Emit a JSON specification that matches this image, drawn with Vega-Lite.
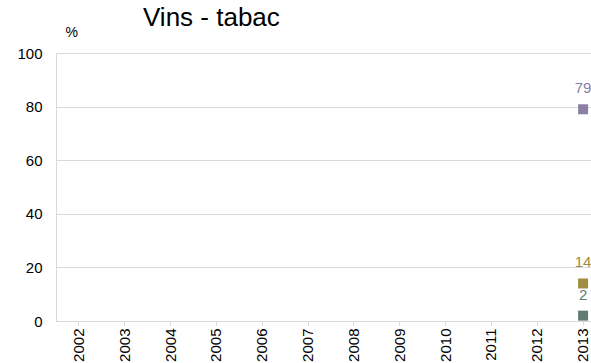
{
  "$schema": "https://vega.github.io/schema/vega-lite/v6.json",
  "autosize": {"type": "none"},
  "padding": {"left": 56, "top": 53, "right": 0, "bottom": 42},
  "width": 550,
  "height": 268,
  "background": "white",
  "config": {
    "font": "Liberation Sans",
    "view": {"stroke": null}
  },
  "title": {
    "text": "Vins - tabac",
    "anchor": "start",
    "frame": "group",
    "dx": 87,
    "offset": -6,
    "fontSize": 26,
    "fontWeight": "normal",
    "color": "#000000",
    "font": "Liberation Sans"
  },
  "data": {
    "values": [
      {"year": "2013", "series": "Vins", "value": 79},
      {"year": "2013", "series": "Tabac", "value": 14},
      {"year": "2013", "series": "Autre", "value": 2}
    ]
  },
  "encoding": {
    "x": {
      "field": "year",
      "type": "ordinal",
      "scale": {
        "type": "band",
        "domain": ["2002","2003","2004","2005","2006","2007","2008","2009","2010","2011","2012","2013"],
        "paddingInner": 0,
        "paddingOuter": 0
      },
      "axis": {
        "title": null,
        "labelAngle": -90,
        "labelFontSize": 15,
        "labelColor": "#000000",
        "labelPadding": 3,
        "tickSize": 4,
        "tickColor": "#D9D9D9",
        "domainColor": "#D9D9D9",
        "grid": false
      }
    },
    "y": {
      "field": "value",
      "type": "quantitative",
      "scale": {"domain": [0, 100], "nice": false},
      "axis": {
        "title": "%",
        "titleAngle": 0,
        "titleAlign": "left",
        "titleBaseline": "bottom",
        "titleX": 9,
        "titleY": -14,
        "titleFontSize": 14,
        "titleFontWeight": "normal",
        "titleColor": "#000000",
        "values": [0, 20, 40, 60, 80, 100],
        "tickSize": 0,
        "labelPadding": 14,
        "labelFontSize": 15,
        "labelColor": "#000000",
        "gridColor": "#D9D9D9",
        "domainColor": "#D9D9D9"
      }
    },
    "color": {
      "field": "series",
      "type": "nominal",
      "scale": {
        "domain": ["Vins", "Tabac", "Autre"],
        "range": ["#8B7FA3", "#A08D3F", "#5F7D73"]
      },
      "legend": null
    }
  },
  "layer": [
    {
      "mark": {"type": "point", "shape": "square", "filled": true, "size": 100, "opacity": 1}
    },
    {
      "mark": {"type": "text", "dy": -21, "fontSize": 15, "font": "Liberation Sans"},
      "encoding": {"text": {"field": "value", "type": "quantitative"}}
    }
  ]
}
